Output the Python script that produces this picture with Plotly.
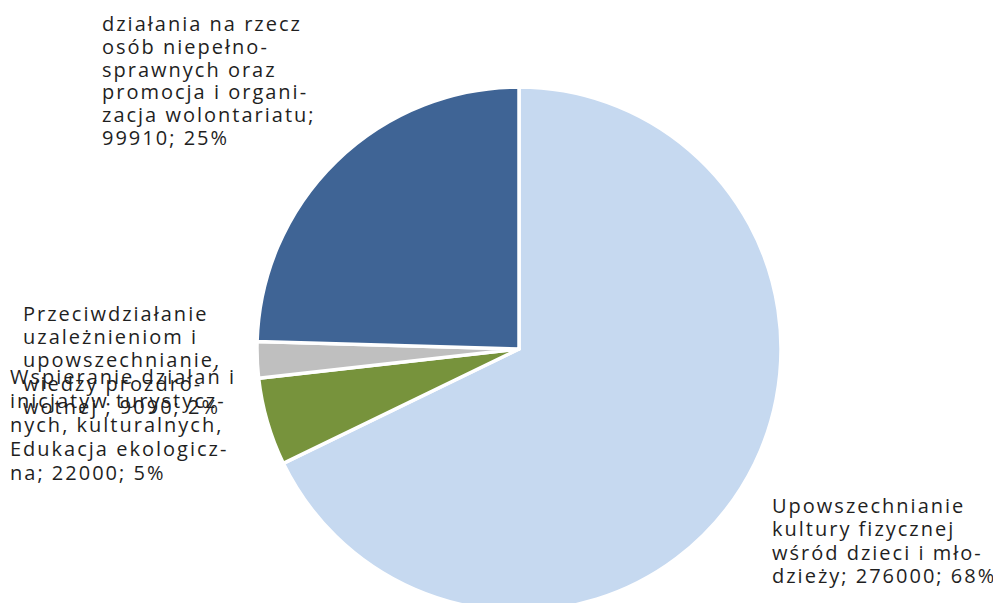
import plotly.graph_objects as go

categories = [
    "Upowszechnianie kultury fizycznej wśród dzieci i młodzieży",
    "Wspieranie działań i inicjatyw turystycznych, kulturalnych, Edukacja ekologiczna",
    "Przeciwdziałanie uzależnieniom i upowszechnianie wiedzy prozdrowotnej",
    "działania na rzecz osób niepełnosprawnych oraz promocja i organizacja wolontariatu",
]
values = [276000, 22000, 9090, 99910]
colors = ["#C6D9F0", "#77933C", "#BFBFBF", "#3F6495"]

label_lines = [
    ["Upowszechnianie", "kultury fizycznej", "wśród dzieci i mło-", "dzieży; 276000; 68%"],
    ["Wspieranie działań i", "inicjatyw turystycz-", "nych, kulturalnych,", "Edukacja ekologicz-", "na; 22000; 5%"],
    ["Przeciwdziałanie", "uzależnieniom i", "upowszechnianie,", "wiedzy prozdro-", "wotnej ; 9090; 2%"],
    ["działania na rzecz", "osób niepełno-", "sprawnych oraz", "promocja i organi-", "zacja wolontariatu;", "99910; 25%"],
]
# (left x, first line y, line step) in window pixels
label_pos = [(770, 505, 23.6), (8, 376, 24.0), (21, 313, 23.4), (100, 23.5, 22.8)]

W, H = 1001, 603
OFF = 8  # page body margin


def px_x(X):
    return (X - OFF) / W


def px_y(Y):
    return 1 - (Y - OFF) / H


cx, cy, r = 519, 349, 262
fig = go.Figure(go.Pie(
    labels=categories,
    values=values,
    sort=False,
    direction="clockwise",
    rotation=0,
    marker=dict(colors=colors, line=dict(color="white", width=3.5)),
    textinfo="none",
    hoverinfo="label+value+percent",
    domain=dict(x=[px_x(cx - r), px_x(cx + r)], y=[max(0, px_y(cy + r)), px_y(cy - r)]),
    showlegend=False,
))

annotations = []
for lines, (X, Y0, step) in zip(label_lines, label_pos):
    for i, line in enumerate(lines):
        annotations.append(dict(
            text='<span style="letter-spacing:2px">' + line + "</span>",
            x=px_x(X), y=px_y(Y0 + i * step), xref="paper", yref="paper",
            xanchor="left", yanchor="middle", align="left", showarrow=False,
            font=dict(family="Open Sans", size=20, color="#1F1F1F"),
        ))

fig.update_layout(
    width=W, height=H,
    margin=dict(l=0, r=0, t=0, b=0),
    paper_bgcolor="white", plot_bgcolor="white",
    annotations=annotations,
)

fig.write_html("out.html")
